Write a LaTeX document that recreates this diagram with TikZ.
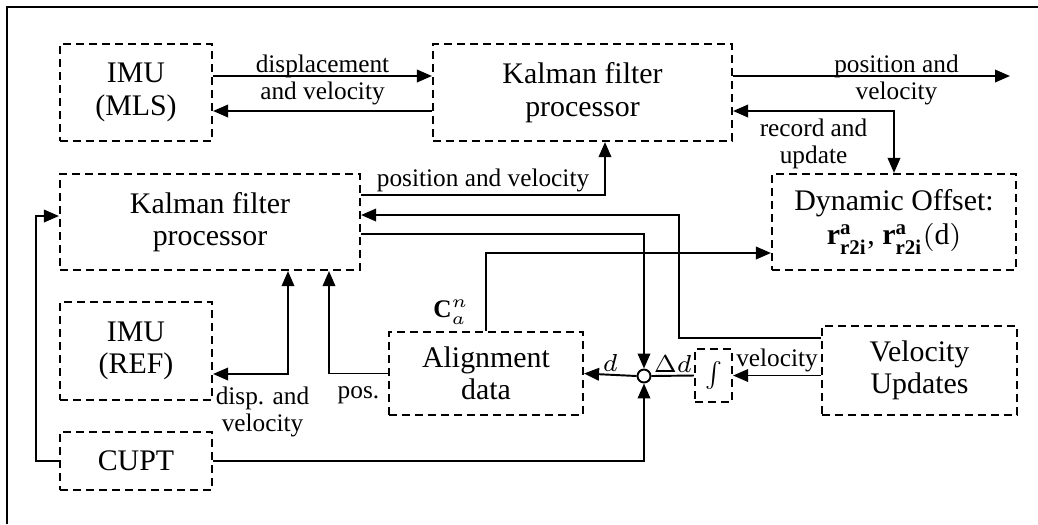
\documentclass[tikz,border=0pt]{standalone}
\usepackage{fontspec}
\setmainfont{Liberation Serif}
\usepackage{graphicx}
\usepackage{tikz}
\usetikzlibrary{arrows.meta}

\begin{document}
\begin{tikzpicture}[x=0.1mm, y=-0.1mm, line width=0.55pt, >={Triangle[length=1.5mm, width=1.25mm]},
    block/.style={draw, dash pattern=on 0.8mm off 0.5mm, line width=0.6pt, align=center, inner sep=0pt, font=\fontsize{8.5}{9.2}\selectfont},
    lbl/.style={align=center, inner sep=0.6pt, font=\fontsize{7.2}{7.6}\selectfont}]
    \useasboundingbox (0,0) rectangle (1038,524);
    \draw[line width=0.75pt] (7,524) -- (7,7) -- (1038,7);

    \node[block, minimum width=15.2mm, minimum height=9.7mm] (mls) at (136,92.5) {IMU\\(MLS)};
    \node[block, minimum width=29.9mm, minimum height=9.7mm] (kfa) at (582.5,92.5) {Kalman filter\\processor};
    \node[block, minimum width=30mm, minimum height=9.6mm] (kfb) at (210,222) {Kalman filter\\processor};
    \node[block, minimum width=24.4mm, minimum height=9.6mm] (dyn) at (894,222) {Dynamic Offset:\\[0.6pt]$\mathbf{r}^{\mathbf{a}}_{\mathbf{r2i}}$, $\mathbf{r}^{\mathbf{a}}_{\mathbf{r2i}}(\mathrm{d})$};
    \node[block, minimum width=15.2mm, minimum height=9.8mm] (ref) at (136,351) {IMU\\(REF)};
    \node[block, minimum width=19.4mm, minimum height=8.3mm] (align) at (486,373.5) {Alignment\\data};
    \node[block, minimum width=3.7mm, minimum height=5.3mm] (integ) at (713.5,375.5) {\scalebox{0.72}{$\int$}};
    \node[block, minimum width=19.5mm, minimum height=8.9mm] (vel) at (919.5,370.5) {Velocity\\Updates};
    \node[block, minimum width=15.2mm, minimum height=5.8mm] (cupt) at (136,461) {CUPT};
    \node[circle, draw, fill=white, minimum size=1.3mm, inner sep=0pt] (sum) at (644,376) {};
    \coordinate (out) at (1010,76);

    \draw[->] ([yshift=1.65mm]mls.east) -- ([yshift=1.65mm]kfa.west) node[midway, lbl, yshift=-0.4mm] {displacement\\and velocity};
    \draw[->] ([yshift=-1.85mm]kfa.west) -- ([yshift=-1.85mm]mls.east);
    \draw[->] ([yshift=1.65mm]kfa.east) -- (out) node[pos=0.59, lbl, yshift=-0.4mm] {position and\\velocity};
    \draw[<->] ([yshift=-1.85mm]kfa.east) -| (dyn.north) node[pos=0.25, below, lbl, yshift=-0.5mm] {record and\\update};
    \draw[->] ([yshift=2.7mm]kfb.east) -| ([xshift=2.25mm]kfa.south) node[pos=0.25, above, lbl] {position and velocity};
    \draw[->] ([yshift=3.25mm]vel.west) -- ++(-14.2mm,0) |- ([yshift=0.7mm]kfb.east);
    \draw[->] ([yshift=-1.2mm]kfb.east) -| (sum.north);
    \draw[->] (align.north) |- ([yshift=-3.1mm]dyn.west) node[pos=0.12, left=1.4mm, lbl] {$\mathbf{C}_a^n$};
    \draw[->] (vel.west |- integ) -- (integ.east) node[midway, above, lbl] {velocity};
    \draw (integ.west) -- (sum.east) node[midway, above, lbl] {$\Delta d$};
    \draw[->] (sum.west) -- (align.east) node[midway, above, lbl] {$d$};
    \draw[->] (cupt.east) -| (sum.south);
    \draw[->] (cupt.west) -- ++(-2.3mm,0) |- ([yshift=0.6mm]kfb.west);
    \draw[<->] ([yshift=-2.3mm]ref.east) -| ([xshift=7.8mm]kfb.south) node[pos=0.33, below=1mm, lbl] {disp. and\\velocity};
    \draw[->] (align.west) -| ([xshift=11.9mm]kfb.south) node[pos=0.25, below=1mm, lbl] {pos.};
\end{tikzpicture}
\end{document}
